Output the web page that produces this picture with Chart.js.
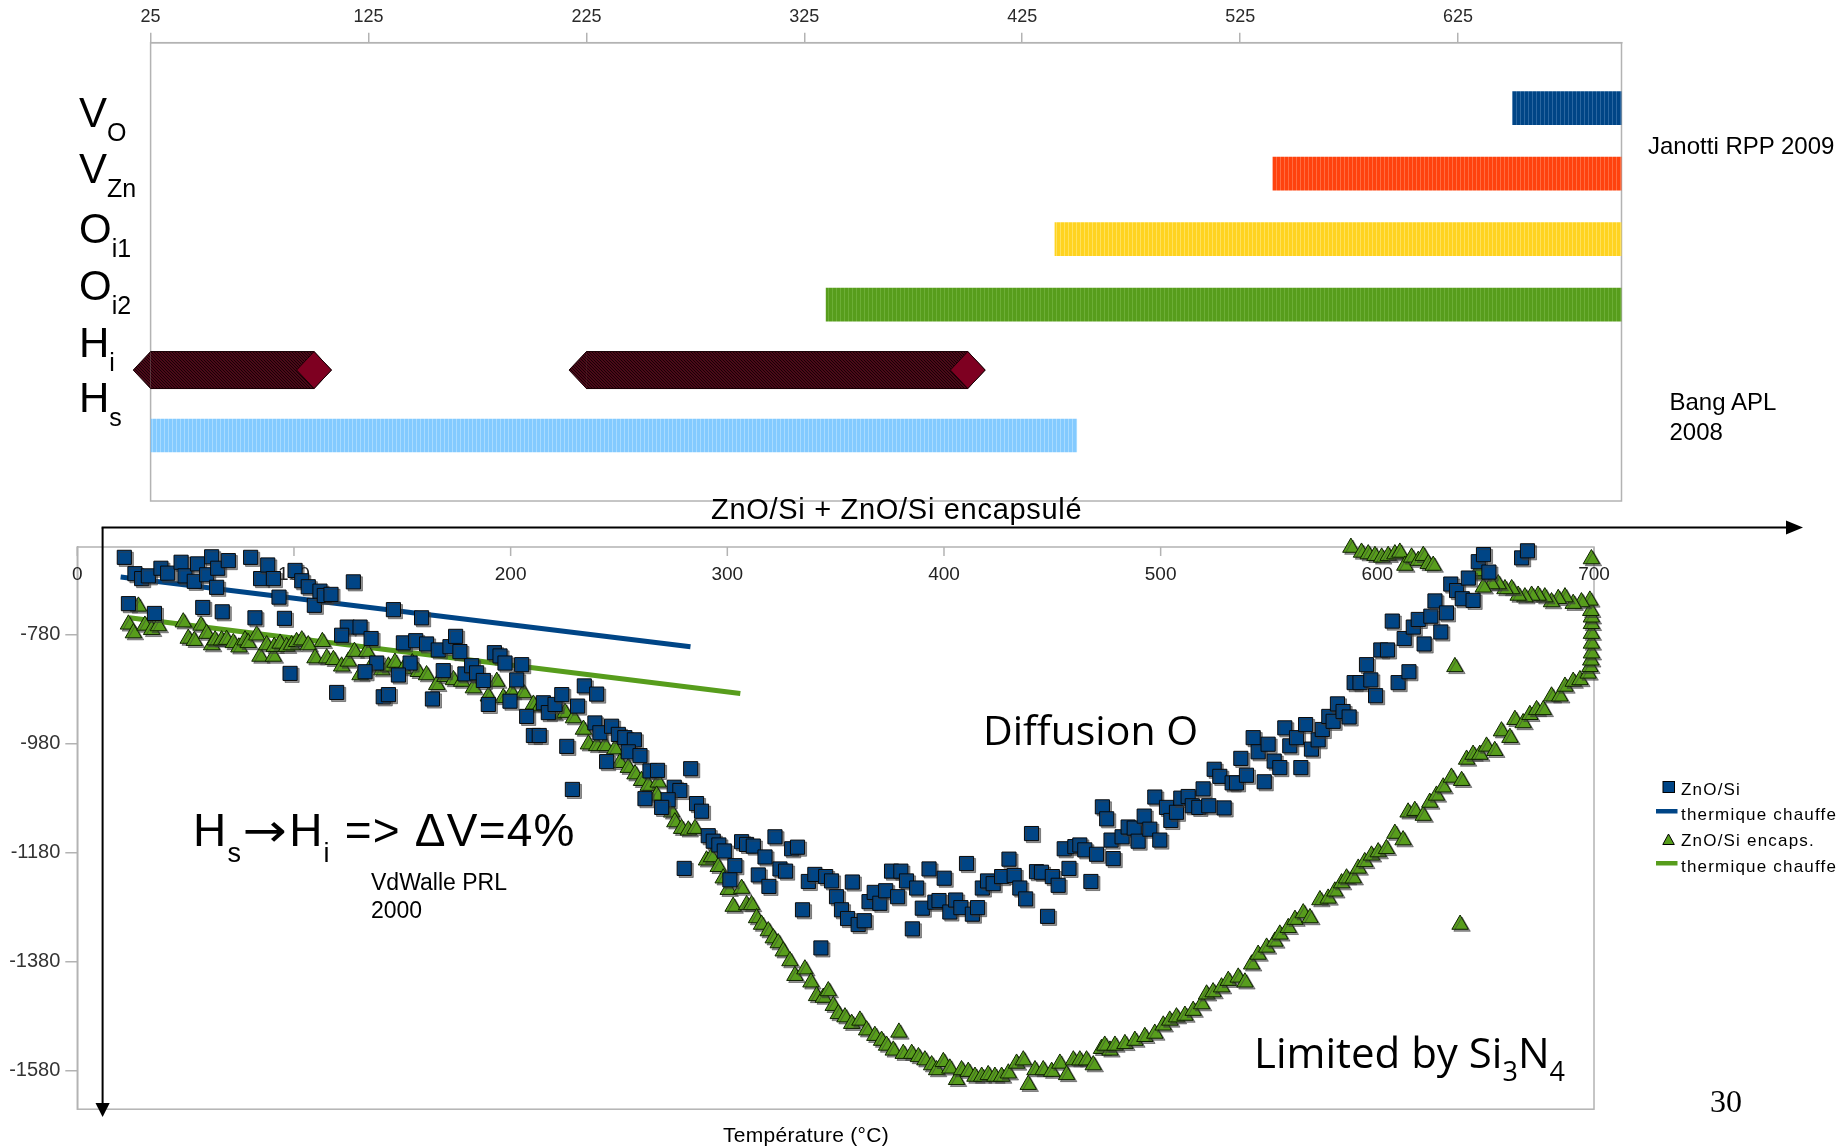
<!DOCTYPE html>
<html lang="fr">
<head>
<meta charset="utf-8">
<title>ZnO/Si dilatation</title>
<script src="https://cdn.jsdelivr.net/npm/chart.js"></script>
<style>
  html, body { margin: 0; padding: 0; background: #fff; }
  #slide { position: relative; width: 1845px; height: 1147px; overflow: hidden;
           font-family: "Liberation Sans", Arial, sans-serif; color: #000; }
  #slide canvas, #slide svg { position: absolute; }
  .t { position: absolute; white-space: nowrap; line-height: 1; }
  .row { font-size: 42px; left: 79px; }
  .row span { font-size: 25px; vertical-align: -14px; }
  .calibri { font-family: "Open Sans", sans-serif; }
  .lg { font-size: 17px; letter-spacing: 1.2px; left: 1681px; }
  .arrow { display: inline-block; width: 47px; text-align: center; font-family: "DejaVu Sans", sans-serif;
           transform: scaleX(1.15); }
</style>
</head>
<body>
<div id="slide">
  <canvas id="defects" width="1660" height="520" style="left:0;top:0;width:1660px;height:520px"></canvas>
  <canvas id="dilatation" width="1620" height="600" style="left:0;top:530px;width:1620px;height:600px"></canvas>

  <svg width="1845" height="1147" style="left:0;top:0;pointer-events:none">
    <line x1="102.6" y1="527.5" x2="102.6" y2="1104" stroke="#000" stroke-width="2"/>
    <polygon points="95.5,1103 109.7,1103 102.6,1117" fill="#000"/>
    <line x1="101.6" y1="527.5" x2="1788" y2="527.5" stroke="#000" stroke-width="2"/>
    <polygon points="1786,520.5 1786,534.5 1803,527.5" fill="#000"/>
    <!-- legend markers -->
    <rect x="1663" y="781.5" width="11.5" height="11" fill="#004586" stroke="#000" stroke-width="1"/>
    <rect x="1656" y="809" width="21.5" height="4.5" fill="#004586"/>
    <polygon points="1662.8,844.5 1668.5,834 1674.3,844.5" fill="#579d1c" stroke="#000" stroke-width="1"/>
    <rect x="1656" y="861" width="21.5" height="4.5" fill="#579d1c"/>
  </svg>

  <!-- defect labels -->
  <div class="t row" style="top:91.5px">V<span>O</span></div>
  <div class="t row" style="top:147.5px">V<span>Zn</span></div>
  <div class="t row" style="top:207.5px">O<span>i1</span></div>
  <div class="t row" style="top:264.5px">O<span>i2</span></div>
  <div class="t row" style="top:321.5px">H<span>i</span></div>
  <div class="t row" style="top:376.5px">H<span>s</span></div>

  <div class="t" style="left:1648px;top:133.7px;font-size:24px">Janotti RPP 2009</div>
  <div class="t" style="left:1669.5px;top:390.4px;font-size:24px">Bang APL</div>
  <div class="t" style="left:1669.5px;top:419.7px;font-size:24px">2008</div>
  <div class="t" style="left:711px;top:494.8px;font-size:29px;letter-spacing:0.7px">ZnO/Si + ZnO/Si encapsulé</div>

  <div class="t" style="left:193px;top:807px;font-size:46px;letter-spacing:1.2px">H<span style="font-size:27px;vertical-align:-16px">s</span><span class="arrow">→</span>H<span style="font-size:27px;vertical-align:-16px">i</span> =&gt; ΔV=4%</div>
  <div class="t" style="left:371px;top:871.2px;font-size:23px">VdWalle PRL</div>
  <div class="t" style="left:371px;top:898.8px;font-size:23px">2000</div>
  <div class="t calibri" style="left:983px;top:708.6px;font-size:41px">Diffusion O</div>
  <div class="t calibri" style="left:1254px;top:1031px;font-size:42px">Limited by Si<span style="font-size:27px;vertical-align:-13px">3</span>N<span style="font-size:27px;vertical-align:-13px">4</span></div>
  <div class="t" style="left:723px;top:1123.9px;font-size:21px;letter-spacing:0.3px">Température (°C)</div>
  <div class="t" style="left:1710px;top:1085.2px;font-size:32px;font-family:'Liberation Serif','Times New Roman',serif">30</div>

  <div class="t lg" style="top:780.6px">ZnO/Si</div>
  <div class="t lg" style="top:805.6px">thermique chauffe</div>
  <div class="t lg" style="top:831.6px">ZnO/Si encaps.</div>
  <div class="t lg" style="top:858.3px">thermique chauffe</div>
</div>

<script>
Chart.defaults.font.family = '"Liberation Sans", Arial, sans-serif';
Chart.defaults.color = '#333';
Chart.defaults.animation = false;

// ---- top: temperature windows of each defect ----
const topTicks = [25, 125, 225, 325, 425, 525, 625];
const defectRows = [1, 2, 3, 4, 6];          // V_O, V_Zn, O_i1, O_i2, H_s
const defectFrom = [650, 540, 440, 335, 25];
const defectTo = [700, 700, 700, 700, 450];
const defectColors = ['#004586', '#ff420e', '#ffd320', '#579d1c', '#83caff'];
const defectStripes = ['#2a66a0', '#ff6c40', '#ffe15c', '#6cae36', '#a8dbff'];
const hiRow = 5;                               // H_i
const hiFrom = [25, 225];
const hiTo = [100, 400];

// ---- bottom: dilatation vs temperature ----
const tempTicks = [0, 100, 200, 300, 400, 500, 600, 700];
const dilatTicks = [-780, -980, -1180, -1380, -1580];

const znoSi = [
  [21.7,-638],[26.6,-668],[29.7,-677],[32.8,-672],[38.6,-658],[41.7,-667],[47.9,-647],[49.7,-672],[54.0,-682],[55.5,-650],
  [59.7,-670],[62.0,-637],[64.3,-693],[64.8,-658],[69.7,-644],[80.0,-638],[84.6,-677],[87.9,-652],[90.5,-677],[93.1,-711],
  [100.5,-662],[103.6,-681],[106.6,-692],[109.4,-726],[112.0,-700],[114.0,-708],[117.1,-706],[127.4,-683],
  [23.6,-723],[35.6,-741],[57.9,-730],[66.9,-738],[82.0,-749],[95.6,-750],[145.9,-734],[158.9,-749],
  [124.6,-766],[122.0,-781],[130.5,-766],[135.6,-787],[150.5,-795],[156.2,-791],[161.2,-797],[166.6,-808],[172.0,-802],[174.6,-783],
  [176.6,-811],[192.5,-813],[195.1,-819],[197.4,-832],[205.1,-835],[138.2,-832],[132.8,-848],[153.6,-832],[148.2,-854],[168.9,-846],
  [178.9,-852],[182.0,-837],[184.3,-850],[187.4,-864],[202.8,-863],[98.2,-851],[119.7,-886],[141.2,-894],[143.6,-890],[163.9,-898],
  [189.7,-908],[199.7,-902],[207.4,-930],[215.1,-905],[217.4,-923],[220.5,-908],[223.6,-890],[230.9,-911],[234.0,-874],[210.5,-965],
  [213.2,-965],[225.9,-985],[228.5,-1064],
  [239.7,-889],[238.9,-942],[241.2,-960],[246.6,-948],[249.7,-963],[252.7,-969],[257.1,-973],[254.3,-995],[259.7,-1002],[244.3,-1013],
  [264.3,-1030],[267.8,-1029],[283.1,-1026],[275.5,-1060],[278.1,-1066],[262.0,-1081],[272.7,-1083],[269.7,-1097],[285.8,-1090],[288.1,-1104],
  [280.1,-1209],[291.2,-1149],[293.5,-1159],[296.1,-1166],[298.6,-1177],[303.5,-1204],[301.2,-1230],[306.6,-1160],[308.9,-1165],[312.0,-1168],
  [317.4,-1188],[322.0,-1151],[314.3,-1221],[319.2,-1242],[324.3,-1210],[326.9,-1214],[329.7,-1173],[332.4,-1170],[334.7,-1285],[337.4,-1233],
  [340.4,-1220],[345.4,-1224],[348.1,-1232],[350.4,-1261],[352.7,-1285],[355.5,-1301],[360.4,-1312],[363.2,-1305],[357.7,-1234],[343.2,-1355],
  [365.4,-1270],[367.8,-1253],[370.4,-1273],[373.1,-1250],[375.8,-1214],[380.1,-1214],[382.7,-1232],[378.6,-1261],[387.4,-1245],[385.4,-1320],
  [393.1,-1210],[400.1,-1227],[410.4,-1200],[390.0,-1282],[395.8,-1271],[397.7,-1268],[402.7,-1289],[405.4,-1267],[407.8,-1281],[413.1,-1293],
  [415.5,-1281],[417.7,-1245],[420.1,-1232],[422.7,-1237],[426.6,-1224],[430.0,-1192],[432.4,-1222],[435.0,-1245],[437.7,-1265],[440.4,-1145],
  [442.7,-1215],[445.0,-1216],[447.8,-1297],[450.0,-1224],[452.7,-1240],[455.5,-1173],[457.7,-1209],[460.4,-1169],[462.7,-1166],[465.0,-1175],
  [467.8,-1233],[470.4,-1183],[473.1,-1096],[475.1,-1118],[477.1,-1157],[478.1,-1191],
  [482.2,-1151],[485.0,-1133],[487.8,-1135],[489.6,-1159],[492.4,-1113],[495.0,-1137],[497.3,-1078],[499.6,-1157],[502.7,-1097],[504.7,-1121],
  [507.3,-1106],[509.3,-1080],[512.7,-1077],[514.6,-1094],[517.6,-1097],[519.6,-1063],[522.2,-1094],[524.7,-1027],[527.3,-1040],[529.3,-1098],
  [533.0,-1052],[535.0,-1052],[537.0,-1007],[539.6,-1038],[542.7,-969],[545.0,-995],[547.8,-1050],[549.6,-981],[552.4,-1012],[555.0,-1024],
  [557.3,-951],[559.6,-984],[562.7,-969],[564.7,-1024],[566.9,-945],[569.6,-990],[572.7,-973],[574.6,-954],[577.6,-930],[579.6,-939],
  [581.6,-907],[584.2,-921],[587.0,-931],[589.3,-868],[592.0,-868],[595.0,-835],[597.0,-863],[599.2,-892],[601.6,-808],[604.7,-808],
  [606.9,-755],[609.6,-868],[612.4,-787],[614.6,-848],[616.6,-766],[618.9,-752],[621.6,-797],[624.7,-746],[626.6,-718],[629.3,-775],
  [631.9,-740],[633.9,-687],[636.6,-699],[639.2,-714],[642.0,-676],[644.2,-717],[646.6,-646],[649.0,-633],[651.5,-665],[666.6,-639],[669.3,-626]
];

const znoSiCap = [
  [28.2,-728],[23.6,-761],[25.9,-777],[31.2,-763],[34.3,-771],[37.4,-764],[48.9,-757],[51.2,-787],[54.0,-791],[57.1,-763],
  [59.7,-778],[62.0,-799],[63.6,-790],[66.6,-790],[68.9,-789],[72.0,-795],[74.6,-803],[77.4,-790],[78.9,-795],[82.8,-781],
  [84.3,-820],[87.4,-799],[90.5,-820],[90.9,-802],[93.6,-796],[96.6,-802],[98.9,-799],[101.2,-793],[103.6,-790],[106.6,-799],
  [109.7,-823],[113.1,-793],[115.1,-823],[118.2,-826],[122.0,-838],[125.1,-829],[127.9,-811],[130.5,-854],[133.6,-811],[135.9,-836],
  [140.5,-845],[143.6,-838],[146.6,-831],[150.5,-843],[154.6,-832],[157.4,-848],[161.2,-854],[165.9,-872],[169.7,-857],[173.6,-863],
  [177.4,-866],[182.8,-878],[185.1,-856],[189.7,-893],[193.6,-866],[196.6,-896],[200.5,-887],[205.9,-887],[210.5,-908],[213.6,-911],
  [219.7,-926],[225.1,-923],[229.0,-933],[233.6,-954],[235.9,-981],
  [239.7,-984],[243.5,-984],[248.1,-990],[250.4,-1015],[254.3,-1024],[257.4,-1036],[260.4,-1048],[263.5,-1057],[268.1,-1051],[267.4,-1075],
  [271.2,-1090],[274.3,-1106],[275.8,-1124],[278.9,-1136],[282.0,-1139],[285.1,-1136],[290.4,-1194],[292.7,-1188],[295.8,-1206],[298.1,-1227],
  [300.4,-1248],[302.7,-1279],[306.6,-1246],[308.9,-1276],[311.2,-1276],[313.5,-1300],[315.8,-1312],[318.9,-1324],[321.2,-1337],[323.5,-1346],
  [325.8,-1361],[328.9,-1379],[331.2,-1406],[335.8,-1394],[338.6,-1418],[341.2,-1443],[344.3,-1446],[346.6,-1434],[348.9,-1461],[351.2,-1476],
  [354.3,-1482],[357.4,-1494],[361.2,-1488],[364.3,-1506],[368.1,-1516],[371.2,-1525],[373.5,-1534],[376.6,-1543],[379.2,-1510],[381.2,-1549],
  [385.1,-1549],[388.2,-1555],[391.2,-1561],[394.3,-1570],[396.6,-1579],[399.7,-1564],[402.7,-1576],[405.8,-1597],[408.1,-1579],[411.2,-1582],
  [414.3,-1591],[417.4,-1591],[420.4,-1588],[423.5,-1591],[426.6,-1591],[429.7,-1585],[433.5,-1567],[436.6,-1561],[438.9,-1606],[442.0,-1579],
  [445.8,-1579],[449.7,-1582],[453.5,-1567],[456.6,-1588],[459.7,-1561],[462.7,-1561],[465.8,-1561],[468.9,-1570],[472.7,-1540],[476.6,-1543],
  [474.2,-1534],[478.9,-1534],[483.5,-1531],[488.1,-1525],[492.7,-1518],[497.3,-1512],[501.2,-1497],[504.2,-1488],[507.3,-1482],[511.2,-1479],
  [515.0,-1470],[518.9,-1458],[521.2,-1440],[524.2,-1436],[528.1,-1427],[531.2,-1415],[535.8,-1409],[538.9,-1418],[542.0,-1385],[545.0,-1367],
  [548.9,-1354],[552.7,-1343],[555.0,-1330],[558.9,-1318],[562.0,-1303],[565.8,-1291],[568.9,-1300],[573.5,-1267],[577.3,-1264],[580.4,-1251],
  [583.5,-1236],[585.8,-1227],[588.9,-1227],[591.2,-1209],[594.2,-1197],[597.3,-1185],[600.4,-1179],[604.2,-1173],[608.1,-1145],[611.9,-1157],
  [614.2,-1106],[617.3,-1103],[621.2,-1112],[624.2,-1088],[627.3,-1075],[630.4,-1060],[634.2,-1042],[638.9,-1048],[641.2,-1009],[644.2,-1000],
  [647.3,-1000],[650.4,-985],[654.2,-993],[657.3,-957],[661.2,-969],[663.5,-936],[667.3,-942],[670.4,-927],[673.5,-918],[676.6,-918],
  [680.4,-893],[684.2,-893],[686.6,-875],[690.4,-866],[693.5,-863],[697.3,-851],[698.1,-839],[698.5,-827],[698.8,-814],[698.8,-796],
  [698.8,-778],[698.8,-760],[698.8,-748],[698.5,-736],[698.1,-717],[694.2,-720],[690.4,-723],[686.6,-711],[683.5,-714],[680.4,-720],
  [677.3,-711],[674.2,-708],[671.2,-708],[668.1,-711],[665.0,-708],[662.0,-696],[658.9,-696],[655.8,-687],[652.7,-687],[648.9,-693],
  [648.1,-669],[646.6,-663],[698.8,-641],[587.8,-620],[592.7,-629],[595.8,-632],[598.9,-635],[602.0,-638],[605.0,-635],[608.1,-632],
  [610.4,-629],[612.7,-653],[615.8,-638],[618.9,-644],[621.2,-635],[623.5,-650],[625.8,-653],[635.8,-839],[638.2,-1312]
];

const znoSiFit = [[20, -674], [283, -802]];
const znoSiCapFit = [[24, -749], [306, -888]];

// vertical hatch texture used by the bars
function stripes(base, line) {
  const c = document.createElement('canvas');
  c.width = 4; c.height = 2;
  const g = c.getContext('2d');
  g.fillStyle = base; g.fillRect(0, 0, 4, 2);
  g.fillStyle = line; g.fillRect(0, 0, 1, 2);
  return g.createPattern(c, 'repeat');
}

function hatch(base, dot) {
  const c = document.createElement('canvas');
  c.width = 3; c.height = 3;
  const g = c.getContext('2d');
  g.fillStyle = base; g.fillRect(0, 0, 3, 3);
  g.fillStyle = dot; g.fillRect(0, 0, 1, 1); g.fillRect(1, 1, 1, 1); g.fillRect(2, 2, 1, 1);
  return g.createPattern(c, 'repeat');
}

const frame = {
  id: 'frame',
  beforeDatasetsDraw(chart) {
    const { ctx, chartArea: a } = chart;
    ctx.save();
    ctx.strokeStyle = '#b3b3b3';
    ctx.lineWidth = 1.5;
    ctx.strokeRect(a.left, a.top, a.right - a.left, a.bottom - a.top);
    ctx.restore();
  }
};

// H_i drawn as a hexagonal prism: pointed start, lighter end face
const hiBody = hatch('#4a0a18', '#1a0006');
const prism = {
  id: 'prism',
  afterDatasetsDraw(chart) {
    const ctx = chart.ctx;
    chart.getDatasetMeta(1).data.forEach(bar => {
      const { x, y, base, height } = bar;
      const top = y - height / 2, bot = y + height / 2, d = height * 0.47;
      ctx.save();
      ctx.fillStyle = hiBody;
      ctx.beginPath();
      ctx.moveTo(base, top); ctx.lineTo(base - d, y); ctx.lineTo(base, bot); ctx.closePath();
      ctx.fill();
      ctx.strokeStyle = '#1a0006';
      ctx.lineWidth = 1;
      ctx.beginPath();
      ctx.moveTo(base - d, y); ctx.lineTo(base, top); ctx.lineTo(x, top); ctx.lineTo(x + d, y);
      ctx.lineTo(x, bot); ctx.lineTo(base, bot); ctx.closePath();
      ctx.stroke();
      ctx.fillStyle = '#7e0021';
      ctx.beginPath();
      ctx.moveTo(x, top); ctx.lineTo(x + d, y); ctx.lineTo(x, bot); ctx.lineTo(x - d, y); ctx.closePath();
      ctx.fill();
      ctx.stroke();
      ctx.restore();
    });
  }
};

new Chart(document.getElementById('defects'), {
  type: 'bar',
  data: {
    datasets: [
      {
        data: defectRows.map((r, i) => ({ x: [defectFrom[i], defectTo[i]], y: r })),
        backgroundColor: defectColors.map((c, i) => stripes(c, defectStripes[i])),
        barThickness: 33,
        grouped: false
      },
      {
        data: hiFrom.map((f, i) => ({ x: [f, hiTo[i]], y: hiRow })),
        backgroundColor: hiBody,
        barThickness: 37,
        grouped: false
      }
    ]
  },
  options: {
    responsive: false,
    indexAxis: 'y',
    layout: { padding: { left: 150.6, right: 38.5, top: 0, bottom: 19 } },
    plugins: { legend: { display: false }, tooltip: { enabled: false } },
    scales: {
      x: {
        type: 'linear',
        position: 'top',
        min: 25,
        max: 700,
        afterBuildTicks: s => { s.ticks = topTicks.map(v => ({ value: v })); },
        afterFit: s => { s.height = 42.7; },
        grid: { drawOnChartArea: false, tickLength: 10, color: '#b3b3b3', lineWidth: 1.5 },
        border: { color: '#b3b3b3', width: 1.5 },
        ticks: { font: { size: 18 }, color: '#2a2a2a', padding: 5, callback: v => String(v) }
      },
      y: { type: 'linear', min: 0, max: 7, reverse: true, offset: false, display: false }
    }
  },
  plugins: [frame, prism]
});

const tempAxis = {
  id: 'tempAxis',
  beforeDatasetsDraw(chart) {
    const { ctx, chartArea: a, scales: { x, y } } = chart;
    const py = y.getPixelForValue(-670);
    ctx.save();
    ctx.strokeStyle = '#b3b3b3';
    ctx.lineWidth = 1.5;
    ctx.fillStyle = '#222';
    ctx.font = '19px "Liberation Sans", Arial, sans-serif';
    ctx.textAlign = 'center';
    ctx.textBaseline = 'middle';
    tempTicks.forEach(v => {
      const px = x.getPixelForValue(v);
      ctx.beginPath(); ctx.moveTo(px, a.top); ctx.lineTo(px, a.top + 9); ctx.stroke();
      ctx.fillText(String(v), px, py);
    });
    ctx.restore();
  }
};

const markerShadow = {
  id: 'markerShadow',
  beforeDatasetDraw(chart, args) {
    if (!chart.data.datasets[args.index].dropShadow) return;
    const ctx = chart.ctx;
    ctx.save();
    ctx.shadowColor = 'rgba(60,60,60,0.55)';
    ctx.shadowOffsetX = 2;
    ctx.shadowOffsetY = 2;
    ctx.shadowBlur = 0;
  },
  afterDatasetDraw(chart, args) {
    if (!chart.data.datasets[args.index].dropShadow) return;
    chart.ctx.restore();
  }
};

const toXY = pts => pts.map(([x, y]) => ({ x, y }));

new Chart(document.getElementById('dilatation'), {
  type: 'scatter',
  data: {
    datasets: [
      {
        label: 'ZnO/Si',
        data: toXY(znoSi),
        pointStyle: 'rect',
        pointRadius: 10,
        pointHoverRadius: 10,
        backgroundColor: '#004586',
        borderColor: '#0a0a0a',
        borderWidth: 1,
        clip: false,
        order: 0,
        dropShadow: true
      },
      {
        label: 'ZnO/Si encaps.',
        data: toXY(znoSiCap),
        pointStyle: 'triangle',
        pointRadius: 9.5,
        pointHoverRadius: 9.5,
        backgroundColor: '#579d1c',
        borderColor: '#0e2200',
        borderWidth: 1,
        clip: false,
        order: 1,
        dropShadow: true
      },
      {
        label: 'thermique chauffe',
        data: toXY(znoSiFit),
        showLine: true,
        pointRadius: 0,
        borderColor: '#004586',
        borderWidth: 5,
        order: 2
      },
      {
        label: 'thermique chauffe',
        data: toXY(znoSiCapFit),
        showLine: true,
        pointRadius: 0,
        borderColor: '#579d1c',
        borderWidth: 5,
        order: 3
      }
    ]
  },
  options: {
    responsive: false,
    layout: { padding: { left: 0, right: 26, top: 12.7, bottom: 20.8 } },
    plugins: { legend: { display: false }, tooltip: { enabled: false } },
    scales: {
      x: { type: 'linear', min: 0, max: 700, display: false },
      y: {
        type: 'linear',
        min: -1651,
        max: -619,
        afterBuildTicks: s => { s.ticks = dilatTicks.map(v => ({ value: v })); },
        afterFit: s => { s.width = 77.3; },
        grid: { drawOnChartArea: false, tickLength: 12, color: '#b3b3b3', lineWidth: 1.5 },
        border: { color: '#b3b3b3', width: 1.5 },
        ticks: { font: { size: 20 }, color: '#333', padding: 5, callback: v => String(v) }
      }
    }
  },
  plugins: [frame, tempAxis, markerShadow]
});
</script>
</body>
</html>
